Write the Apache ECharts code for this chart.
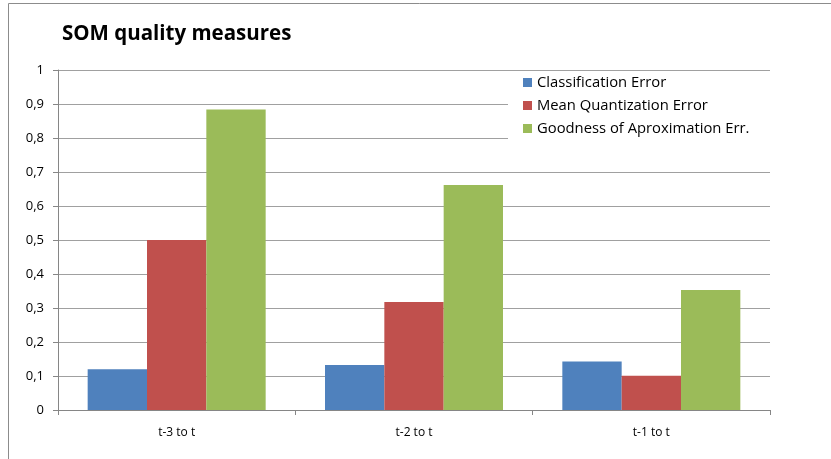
<!DOCTYPE html>
<html>
<head>
<meta charset="utf-8">
<style>
  html, body { margin: 0; padding: 0; background: #fff; }
  #chart { width: 831px; height: 459px; }
</style>
<script src="https://cdn.jsdelivr.net/npm/echarts@6/dist/echarts.min.js"></script>
</head>
<body>
<div id="chart"></div>
<script>
// Categories and series values
var categories = ['t-3 to t', 't-2 to t', 't-1 to t'];
var classificationError = [0.12, 0.132, 0.143];
var meanQuantizationError = [0.5, 0.318, 0.101];
var goodnessApproxError = [0.884, 0.662, 0.353];
var seriesNames = ['Classification Error', 'Mean Quantization Error', 'Goodness of Aproximation Err.'];
var seriesColors = ['#4F81BD', '#C0504D', '#9BBB59'];

var font = '"Open Sans", "DejaVu Sans", sans-serif';
var chart = echarts.init(document.getElementById('chart'), null, { renderer: 'canvas' });

function barSeries(name, data, color) {
  return {
    name: name,
    type: 'bar',
    data: data,
    barGap: '0%',
    barCategoryGap: '25%',
    itemStyle: { color: color },
    emphasis: { disabled: true }
  };
}

chart.setOption({
  animation: false,
  title: {
    text: 'SOM quality measures',
    left: 57,
    top: 19,
    textStyle: { fontFamily: font, fontSize: 20.5, fontWeight: 'bold', color: '#000' }
  },
  legend: {
    orient: 'vertical',
    left: 508,
    top: 72,
    // white box hides the gridline running behind the legend
    backgroundColor: '#fff',
    padding: [3, 24, 3, 15],
    itemWidth: 9,
    itemHeight: 9,
    itemGap: 8,
    icon: 'rect',
    textStyle: { fontFamily: font, fontSize: 14.8, lineHeight: 15, color: '#000' },
    data: seriesNames
  },
  grid: { left: 58, right: 61, top: 70, bottom: 49, containLabel: false },
  xAxis: {
    type: 'category',
    data: categories,
    axisLine: { lineStyle: { color: '#868686', width: 1 } },
    axisTick: { show: true, length: 5, lineStyle: { color: '#868686' } },
    axisLabel: { fontFamily: font, fontSize: 12, color: '#000', margin: 17 }
  },
  yAxis: {
    type: 'value',
    min: 0,
    max: 1,
    interval: 0.1,
    axisLine: { show: true, lineStyle: { color: '#868686', width: 1 } },
    axisTick: { show: true, length: 5, lineStyle: { color: '#868686' } },
    splitLine: { lineStyle: { color: '#A0A0A0', width: 1 } },
    axisLabel: {
      fontFamily: font, fontSize: 13, color: '#000', margin: 14,
      formatter: function (v) { return String(Math.round(v * 10) / 10).replace('.', ','); }
    }
  },
  series: [
    barSeries(seriesNames[0], classificationError, seriesColors[0]),
    barSeries(seriesNames[1], meanQuantizationError, seriesColors[1]),
    barSeries(seriesNames[2], goodnessApproxError, seriesColors[2])
  ],
  graphic: [
    // chart frame (top and left edges)
    { type: 'line', shape: { x1: 8.5, y1: 3.5, x2: 831, y2: 3.5 }, style: { stroke: '#8C8C8C', lineWidth: 1 } },
    { type: 'line', shape: { x1: 8.5, y1: 3.5, x2: 8.5, y2: 459 }, style: { stroke: '#8C8C8C', lineWidth: 1 } }
  ]
});
</script>
</body>
</html>
